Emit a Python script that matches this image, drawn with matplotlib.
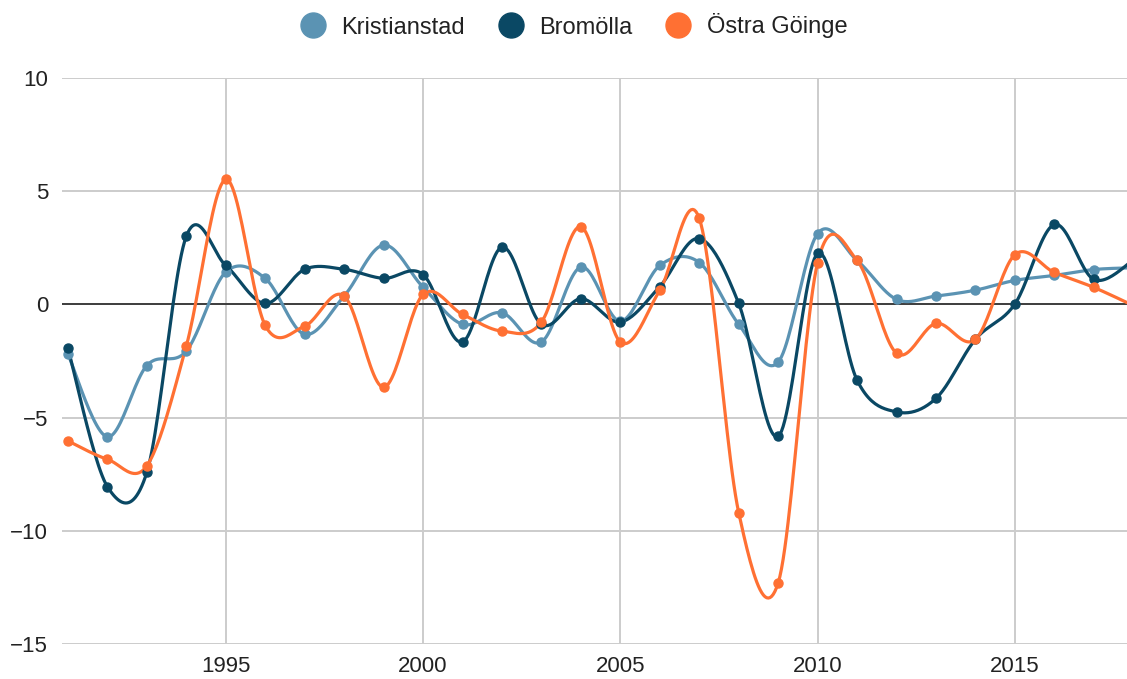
# utveckling per kommun, kurvor genom arsvarden

import numpy as np
import matplotlib
matplotlib.use('Agg')
import matplotlib.pyplot as plt
from matplotlib.lines import Line2D

plt.rcParams['font.family'] = ['Liberation Sans', 'DejaVu Sans']

years = list(range(1991, 2019))

kristianstad = [-2.2, -5.85, -2.7, -2.06, 1.43, 1.15, -1.32, 0.37, 2.62, 0.76,
                -0.88, -0.37, -1.66, 1.65, -0.74, 1.72, 1.85, -0.88, -2.55, 3.13,
                1.94, 0.22, 0.37, 0.63, 1.06, 1.28, 1.54, 1.62]
bromolla = [-1.94, -8.05, -7.42, 3.01, 1.72, 0.04, 1.55, 1.55, 1.15, 1.32,
            -1.66, 2.53, -0.88, 0.25, -0.78, 0.79, 2.91, 0.04, -5.83, 2.25,
            -3.35, -4.75, -4.15, -1.54, 0.02, 3.53, 1.1, 1.95]
ostra_goinge = [-6.03, -6.84, -7.13, -1.84, 5.52, -0.93, -0.96, 0.37, -3.66, 0.44,
                -0.44, -1.18, -0.78, 3.43, -1.66, 0.62, 3.8, -9.2, -12.3, 1.85,
                1.94, -2.16, -0.84, -1.54, 2.2, 1.41, 0.75, -0.05]

serier = [
    ('Kristianstad', kristianstad, '#5b93b3'),
    ('Bromölla', bromolla, '#0a4864'),
    ('Östra Göinge', ostra_goinge, '#ff7033'),
]


def catmull_rom(x, y, n=24):
    """kardinal-spline (spanning 0) genom punkterna, bara for att rita kurvan"""
    p = np.column_stack([np.asarray(x, float), np.asarray(y, float)])
    p = np.vstack([p[0], p, p[-1]])  # dubblerade andpunkter
    t = np.linspace(0, 1, n, endpoint=False)[:, None]
    ut = []
    for i in range(1, len(p) - 2):
        b0 = p[i]
        b1 = p[i] + (p[i + 1] - p[i - 1]) / 6
        b2 = p[i + 1] - (p[i + 2] - p[i]) / 6
        b3 = p[i + 1]
        ut.append((1 - t)**3 * b0 + 3 * (1 - t)**2 * t * b1
                  + 3 * (1 - t) * t**2 * b2 + t**3 * b3)
    ut.append(p[-2][None, :])
    ut = np.vstack(ut)
    return ut[:, 0], ut[:, 1]


fig = plt.figure(figsize=(11.27, 6.79), dpi=100)
ax = fig.add_axes([62 / 1127, 35 / 679, 1 - 62 / 1127, 566 / 679])

for namn, v, farg in serier:
    xs, ys = catmull_rom(years, v)
    ax.plot(xs, ys, color=farg, lw=2.3, zorder=3, solid_capstyle='round')
    ax.plot(years, v, 'o', color=farg, ms=6.5, zorder=4)

ax.axhline(0, color='#333333', lw=1.3, zorder=2)

ax.set_xlim(1990.85, 2017.84)
ax.set_ylim(-15, 10)
ax.set_xticks([1995, 2000, 2005, 2010, 2015])
ax.set_yticks([-15, -10, -5, 0, 5, 10])
ax.set_yticklabels(['\u221215', '\u221210', '\u22125', '0', '5', '10'])
ax.grid(True, color='#cccccc', lw=1.4, zorder=0)
ax.set_axisbelow(True)
for s in ax.spines.values():
    s.set_visible(False)
ax.tick_params(length=0, labelsize=16, colors='#222222')
ax.tick_params(axis='y', pad=10)
ax.tick_params(axis='x', pad=9)

handles = [Line2D([], [], marker='o', ls='', color=farg, ms=18, label=namn)
           for namn, v, farg in serier]
fig.legend(handles=handles, loc='center', bbox_to_anchor=(574 / 1127, 1 - 26 / 679),
           ncol=3, frameon=False, fontsize=17, handlelength=1.0,
           handletextpad=0.7, columnspacing=1.45, labelcolor='#222222')

fig.savefig('out.png', dpi=100)
